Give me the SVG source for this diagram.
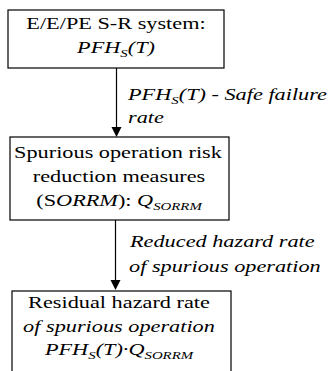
<svg xmlns="http://www.w3.org/2000/svg" width="328" height="371" viewBox="0 0 328 371">
  <style>
    .box { fill: #ffffff; stroke: #000000; stroke-width: 1.2; }
    .wire { stroke: #000000; stroke-width: 1.2; fill: none; }
    .head { fill: #000000; }
    .c { text-anchor: middle; }
    .i { font-style: italic; }
    .sub { font-size: 11px; }
  </style>
  <rect width="328" height="371" fill="#ffffff"/>

  <g font-family="Liberation Serif, serif" font-size="16.5" fill="#000000">
  <g id="connectors">
    <line class="wire" x1="116.5" y1="68" x2="116.5" y2="128"/>
    <path class="head" d="M111.5,127 L121.5,127 L116.5,137 Z"/>
    <line class="wire" x1="115.5" y1="220" x2="115.5" y2="281"/>
    <path class="head" d="M110.5,280 L120.5,280 L115.5,290 Z"/>
    <text class="i" transform="translate(128,100) scale(1.35,1)">PFH<tspan class="sub" dy="4">S</tspan><tspan dy="-4">(T) - Safe failure</tspan></text>
    <text class="i" transform="translate(128,123) scale(1.35,1)">rate</text>
    <text class="i" transform="translate(130,247) scale(1.35,1)">Reduced hazard rate</text>
    <text class="i" transform="translate(129,272) scale(1.35,1)">of spurious operation</text>
  </g>

  <g id="node-system">
    <rect class="box" x="8" y="10" width="216" height="58"/>
    <text class="c" transform="translate(116,29) scale(1.35,1)">E/E/PE S-R system:</text>
    <text class="c i" transform="translate(116,53) scale(1.35,1)">PFH<tspan class="sub" dy="4">S</tspan><tspan dy="-4">(T)</tspan></text>
  </g>

  <g id="node-sorrm">
    <rect class="box" x="10" y="137" width="219" height="83"/>
    <text class="c" transform="translate(118,158) scale(1.35,1)">Spurious operation risk</text>
    <text class="c" transform="translate(119,182) scale(1.35,1)">reduction measures</text>
    <text class="c" transform="translate(119,206) scale(1.35,1)">(S<tspan class="i">ORRM</tspan>): <tspan class="i">Q</tspan><tspan class="i sub" dy="4">SORRM</tspan></text>
  </g>

  <g id="node-residual">
    <rect class="box" x="12" y="291" width="219" height="90"/>
    <text class="c" transform="translate(119,308) scale(1.35,1)">Residual hazard rate</text>
    <text class="c i" transform="translate(119,332) scale(1.35,1)">of spurious operation</text>
    <text class="c i" transform="translate(119,355) scale(1.35,1)">PFH<tspan class="sub" dy="4">S</tspan><tspan dy="-4">(T)·Q</tspan><tspan class="sub" dy="4">SORRM</tspan></text>
  </g>
  </g>
</svg>
